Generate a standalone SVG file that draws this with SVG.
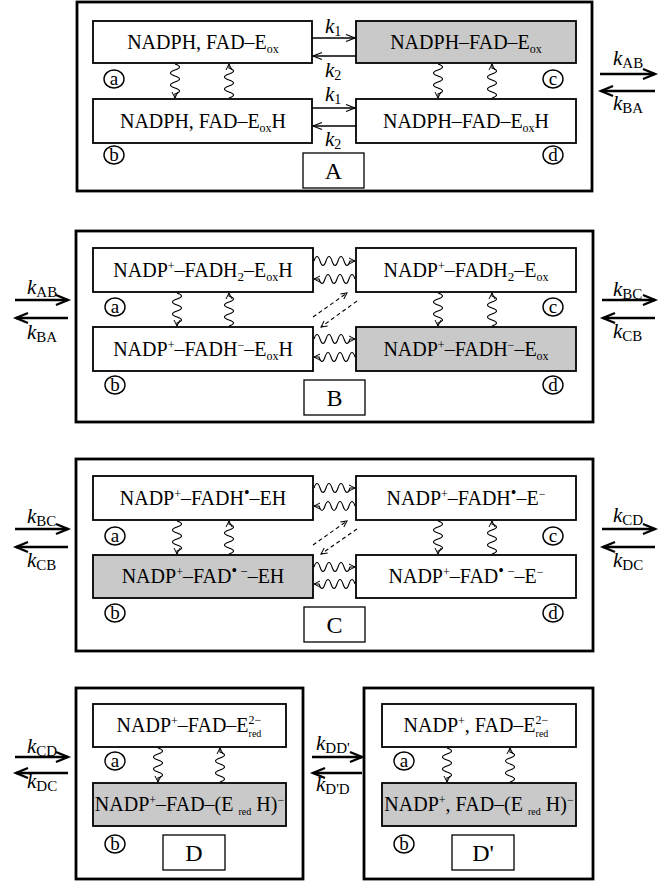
<svg xmlns="http://www.w3.org/2000/svg" width="669" height="882" viewBox="0 0 669 882">
<defs>
<marker id="ah" markerUnits="userSpaceOnUse" markerWidth="10" markerHeight="10" refX="6" refY="3" orient="auto" overflow="visible"><path d="M0,0 L6,3 L0,6" fill="none" stroke="#000" stroke-width="1"/></marker>
<marker id="ahK" markerUnits="userSpaceOnUse" markerWidth="12" markerHeight="10" refX="9" refY="3.5" orient="auto" overflow="visible"><path d="M0,0 L9,3.5 L0,7" fill="none" stroke="#000" stroke-width="1.2"/></marker>
<marker id="ahT" markerUnits="userSpaceOnUse" markerWidth="16" markerHeight="14" refX="12" refY="5" orient="auto" overflow="visible"><path d="M0,0 L12,5 L0,10" fill="none" stroke="#000" stroke-width="2.4"/></marker>
<style>
.outer{fill:#fff;stroke:#000;stroke-width:2.8}
.box{fill:#fff;stroke:#000;stroke-width:1.8}
.shade{fill:#c9c9c9}
.lbl{fill:#fff;stroke:#000;stroke-width:1.3}
.t{font-family:"Liberation Serif","Times New Roman",serif;font-size:20px;text-anchor:middle;fill:#000}
.big{font-family:"Liberation Serif","Times New Roman",serif;font-size:24px;text-anchor:middle;fill:#000}
.cl{fill:none;stroke:#000;stroke-width:1.4}
.ct{font-family:"Liberation Serif","Times New Roman",serif;font-size:19px;text-anchor:middle;fill:#000}
.k{font-family:"Liberation Serif","Times New Roman",serif;font-size:21px;fill:#000}
.wave{fill:none;stroke:#000;stroke-width:1.1;marker-end:url(#ah)}
.dash{fill:none;stroke:#000;stroke-width:1.1;stroke-dasharray:4 3;marker-end:url(#ah)}
.thin{fill:none;stroke:#000;stroke-width:1.3;marker-end:url(#ahK)}
.thick{fill:none;stroke:#000;stroke-width:2.6;marker-end:url(#ahT)}
</style>
</defs>

<!-- Outer panels -->
<g id="panelA"><rect class="outer" x="77" y="2" width="515" height="189"/><rect class="lbl" x="303" y="153" width="61" height="35"/><text class="big" x="333.5" y="179">A</text></g>
<g id="panelB"><rect class="outer" x="76" y="231" width="517" height="191"/><rect class="lbl" x="304" y="380" width="61" height="35"/><text class="big" x="334.5" y="406">B</text></g>
<g id="panelC"><rect class="outer" x="76" y="459" width="517" height="192"/><rect class="lbl" x="304" y="607" width="61" height="35"/><text class="big" x="334.5" y="633">C</text></g>
<g id="panelD"><rect class="outer" x="76" y="688" width="227" height="191"/><rect class="lbl" x="163" y="835" width="62" height="35"/><text class="big" x="194" y="861">D</text></g>
<g id="panelD2"><rect class="outer" x="364" y="688" width="229" height="191"/><rect class="lbl" x="452" y="835" width="62" height="35"/><text class="big" x="483" y="861">D'</text></g>

<!-- Panel A nodes -->
<g id="A-a"><rect class="box" x="93" y="21" width="219" height="42"/><text class="t" x="203" y="49">NADPH, FAD–E<tspan font-size="12" dy="4">ox</tspan></text><ellipse class="cl" cx="114" cy="79" rx="10" ry="9"/><text class="ct" x="114" y="85">a</text></g>
<g id="A-b"><rect class="box" x="93" y="99" width="219" height="44"/><text class="t" x="203" y="128">NADPH, FAD–E<tspan font-size="12" dy="4">ox</tspan><tspan dy="-4">H</tspan></text><ellipse class="cl" cx="114" cy="155" rx="10" ry="9"/><text class="ct" x="114" y="161">b</text></g>
<g id="A-c"><rect class="box shade" x="356" y="21" width="220" height="42"/><text class="t" x="466" y="49">NADPH–FAD–E<tspan font-size="12" dy="4">ox</tspan></text><ellipse class="cl" cx="553" cy="79" rx="10" ry="9"/><text class="ct" x="553" y="85">c</text></g>
<g id="A-d"><rect class="box" x="356" y="99" width="220" height="44"/><text class="t" x="466" y="128">NADPH–FAD–E<tspan font-size="12" dy="4">ox</tspan><tspan dy="-4">H</tspan></text><ellipse class="cl" cx="553" cy="155" rx="10" ry="9"/><text class="ct" x="553" y="161">d</text></g>

<!-- Panel B nodes -->
<g id="B-a"><rect class="box" x="93" y="248" width="220" height="44"/><text class="t" x="203" y="277">NADP<tspan font-size="12" dy="-7">+</tspan><tspan dy="7">–FADH</tspan><tspan font-size="13" dy="4">2</tspan><tspan dy="-4">–E</tspan><tspan font-size="12" dy="4">ox</tspan><tspan dy="-4">H</tspan></text><ellipse class="cl" cx="115" cy="307" rx="10" ry="9"/><text class="ct" x="115" y="313">a</text></g>
<g id="B-b"><rect class="box" x="93" y="327" width="220" height="44"/><text class="t" x="203" y="356">NADP<tspan font-size="12" dy="-7">+</tspan><tspan dy="7">–FADH</tspan><tspan font-size="12" dy="-7">−</tspan><tspan dy="7">–E</tspan><tspan font-size="12" dy="4">ox</tspan><tspan dy="-4">H</tspan></text><ellipse class="cl" cx="115" cy="385" rx="10" ry="9"/><text class="ct" x="115" y="391">b</text></g>
<g id="B-c"><rect class="box" x="356" y="248" width="220" height="44"/><text class="t" x="466" y="277">NADP<tspan font-size="12" dy="-7">+</tspan><tspan dy="7">–FADH</tspan><tspan font-size="13" dy="4">2</tspan><tspan dy="-4">–E</tspan><tspan font-size="12" dy="4">ox</tspan></text><ellipse class="cl" cx="553" cy="307" rx="10" ry="9"/><text class="ct" x="553" y="313">c</text></g>
<g id="B-d"><rect class="box shade" x="356" y="327" width="220" height="44"/><text class="t" x="466" y="356">NADP<tspan font-size="12" dy="-7">+</tspan><tspan dy="7">–FADH</tspan><tspan font-size="12" dy="-7">−</tspan><tspan dy="7">–E</tspan><tspan font-size="12" dy="4">ox</tspan></text><ellipse class="cl" cx="553" cy="385" rx="10" ry="9"/><text class="ct" x="553" y="391">d</text></g>

<!-- Panel C nodes -->
<g id="C-a"><rect class="box" x="93" y="476" width="220" height="44"/><text class="t" x="203" y="505">NADP<tspan font-size="12" dy="-7">+</tspan><tspan dy="7">–FADH</tspan><tspan font-size="16" dy="-7">•</tspan><tspan dy="7">–EH</tspan></text><ellipse class="cl" cx="115" cy="536" rx="10" ry="9"/><text class="ct" x="115" y="542">a</text></g>
<g id="C-b"><rect class="box shade" x="93" y="555" width="220" height="43"/><text class="t" x="203" y="583">NADP<tspan font-size="12" dy="-7">+</tspan><tspan dy="7">–FAD</tspan><tspan font-size="16" dy="-7">•</tspan><tspan font-size="13"> −</tspan><tspan dy="7">–EH</tspan></text><ellipse class="cl" cx="115" cy="613" rx="10" ry="9"/><text class="ct" x="115" y="619">b</text></g>
<g id="C-c"><rect class="box" x="356" y="476" width="220" height="44"/><text class="t" x="466" y="505">NADP<tspan font-size="12" dy="-7">+</tspan><tspan dy="7">–FADH</tspan><tspan font-size="16" dy="-7">•</tspan><tspan dy="7">–E</tspan><tspan font-size="12" dy="-7">−</tspan></text><ellipse class="cl" cx="553" cy="536" rx="10" ry="9"/><text class="ct" x="553" y="542">c</text></g>
<g id="C-d"><rect class="box" x="356" y="555" width="220" height="43"/><text class="t" x="466" y="583">NADP<tspan font-size="12" dy="-7">+</tspan><tspan dy="7">–FAD</tspan><tspan font-size="16" dy="-7">•</tspan><tspan font-size="13"> −</tspan><tspan dy="7">–E</tspan><tspan font-size="12" dy="-7">−</tspan></text><ellipse class="cl" cx="553" cy="613" rx="10" ry="9"/><text class="ct" x="553" y="619">d</text></g>

<!-- Panel D nodes -->
<g id="D-a"><rect class="box" x="93" y="704" width="193" height="43"/><text class="t" x="189" y="732">NADP<tspan font-size="12" dy="-7">+</tspan><tspan dy="7">–FAD–E</tspan><tspan font-size="10" dy="5">red</tspan><tspan font-size="12" dx="-13" dy="-13">2−</tspan></text><ellipse class="cl" cx="115" cy="761" rx="10" ry="9"/><text class="ct" x="115" y="767">a</text></g>
<g id="D-b"><rect class="box shade" x="93" y="783" width="193" height="43"/><text class="t" x="189.5" y="811">NADP<tspan font-size="12" dy="-7">+</tspan><tspan dy="7">–FAD–(E </tspan><tspan font-size="10" dy="4">red</tspan><tspan dy="-4"> H)</tspan><tspan font-size="12" dy="-7">−</tspan></text><ellipse class="cl" cx="115" cy="844" rx="10" ry="9"/><text class="ct" x="115" y="850">b</text></g>

<!-- Panel D' nodes -->
<g id="D2-a"><rect class="box" x="382" y="704" width="194" height="43"/><text class="t" x="476" y="732">NADP<tspan font-size="12" dy="-7">+</tspan><tspan dy="7">, FAD–E</tspan><tspan font-size="10" dy="5">red</tspan><tspan font-size="12" dx="-13" dy="-13">2−</tspan></text><ellipse class="cl" cx="404" cy="761" rx="10" ry="9"/><text class="ct" x="404" y="767">a</text></g>
<g id="D2-b"><rect class="box shade" x="382" y="783" width="194" height="43"/><text class="t" x="479" y="811">NADP<tspan font-size="12" dy="-7">+</tspan><tspan dy="7">, FAD–(E </tspan><tspan font-size="10" dy="4">red</tspan><tspan dy="-4">  H)</tspan><tspan font-size="12" dy="-7">−</tspan></text><ellipse class="cl" cx="404" cy="844" rx="10" ry="9"/><text class="ct" x="404" y="850">b</text></g>

<!-- Connectors -->
<g id="connectors">
<!-- A vertical waves -->
<path class="wave" d="M175,64 q9,3 0,6 t0,6 t0,6 t0,6 t0,6 l0,4"/>
<path class="wave" d="M229,98 q9,-3 0,-6 t0,-6 t0,-6 t0,-6 t0,-6 l0,-4"/>
<path class="wave" d="M438,64 q9,3 0,6 t0,6 t0,6 t0,6 t0,6 l0,4"/>
<path class="wave" d="M492,98 q9,-3 0,-6 t0,-6 t0,-6 t0,-6 t0,-6 l0,-4"/>
<!-- A k1/k2 -->
<path class="thin" d="M312,38 L355,38"/>
<path class="thin" d="M356,56 L313,56"/>
<path class="thin" d="M312,108 L355,108"/>
<path class="thin" d="M356,126 L313,126"/>
<text class="k" x="325" y="33"><tspan font-style="italic">k</tspan><tspan font-size="14" dy="3">1</tspan></text>
<text class="k" x="325" y="77"><tspan font-style="italic">k</tspan><tspan font-size="14" dy="3">2</tspan></text>
<text class="k" x="325" y="101"><tspan font-style="italic">k</tspan><tspan font-size="14" dy="3">1</tspan></text>
<text class="k" x="325" y="146"><tspan font-style="italic">k</tspan><tspan font-size="14" dy="3">2</tspan></text>

<!-- B vertical waves -->
<path class="wave" d="M177,293 q9,3 0,6 t0,6 t0,6 t0,6 t0,6 l0,3"/>
<path class="wave" d="M229,326 q9,-3 0,-6 t0,-6 t0,-6 t0,-6 t0,-6 l0,-3"/>
<path class="wave" d="M438,293 q9,3 0,6 t0,6 t0,6 t0,6 t0,6 l0,3"/>
<path class="wave" d="M492,326 q9,-3 0,-6 t0,-6 t0,-6 t0,-6 t0,-6 l0,-3"/>
<!-- B horizontal waves -->
<path class="wave" d="M314,261 q3,-9 6,0 t6,0 t6,0 t6,0 t6,0 t6,0 l5,0"/>
<path class="wave" d="M355,279 q-3,-9 -6,0 t-6,0 t-6,0 t-6,0 t-6,0 t-6,0 l-5,0"/>
<path class="wave" d="M314,339 q3,-9 6,0 t6,0 t6,0 t6,0 t6,0 t6,0 l5,0"/>
<path class="wave" d="M355,357 q-3,-9 -6,0 t-6,0 t-6,0 t-6,0 t-6,0 t-6,0 l-5,0"/>
<path class="dash" d="M313,317 L347,293"/>
<path class="dash" d="M357,301 L321,327"/>

<!-- C vertical waves -->
<path class="wave" d="M177,521 q9,3 0,6 t0,6 t0,6 t0,6 t0,6 l0,3"/>
<path class="wave" d="M229,554 q9,-3 0,-6 t0,-6 t0,-6 t0,-6 t0,-6 l0,-3"/>
<path class="wave" d="M438,521 q9,3 0,6 t0,6 t0,6 t0,6 t0,6 l0,3"/>
<path class="wave" d="M492,554 q9,-3 0,-6 t0,-6 t0,-6 t0,-6 t0,-6 l0,-3"/>
<!-- C horizontal waves -->
<path class="wave" d="M314,488 q3,-9 6,0 t6,0 t6,0 t6,0 t6,0 t6,0 l5,0"/>
<path class="wave" d="M355,506 q-3,-9 -6,0 t-6,0 t-6,0 t-6,0 t-6,0 t-6,0 l-5,0"/>
<path class="wave" d="M314,567 q3,-9 6,0 t6,0 t6,0 t6,0 t6,0 t6,0 l5,0"/>
<path class="wave" d="M355,584 q-3,-9 -6,0 t-6,0 t-6,0 t-6,0 t-6,0 t-6,0 l-5,0"/>
<path class="dash" d="M313,545 L347,521"/>
<path class="dash" d="M357,529 L321,554"/>

<!-- D / D' vertical waves -->
<path class="wave" d="M158,748 q9,3 0,6 t0,6 t0,6 t0,6 t0,6 l0,4"/>
<path class="wave" d="M220,782 q9,-3 0,-6 t0,-6 t0,-6 t0,-6 t0,-6 l0,-4"/>
<path class="wave" d="M447,748 q9,3 0,6 t0,6 t0,6 t0,6 t0,6 l0,4"/>
<path class="wave" d="M510,782 q9,-3 0,-6 t0,-6 t0,-6 t0,-6 t0,-6 l0,-4"/>

<!-- Inter-panel thick arrows -->
<path class="thick" d="M600,74 L655,74"/>
<path class="thick" d="M655,91 L601,91"/>
<text class="k" x="613" y="65"><tspan font-style="italic">k</tspan><tspan font-size="15" dy="3">AB</tspan></text>
<text class="k" x="613" y="110"><tspan font-style="italic">k</tspan><tspan font-size="15" dy="3">BA</tspan></text>

<path class="thick" d="M15,300 L68,300"/>
<path class="thick" d="M68,318 L16,318"/>
<text class="k" x="27" y="294"><tspan font-style="italic">k</tspan><tspan font-size="15" dy="3">AB</tspan></text>
<text class="k" x="27" y="339"><tspan font-style="italic">k</tspan><tspan font-size="15" dy="3">BA</tspan></text>

<path class="thick" d="M602,300 L655,300"/>
<path class="thick" d="M655,318 L603,318"/>
<text class="k" x="613" y="296"><tspan font-style="italic">k</tspan><tspan font-size="15" dy="3">BC</tspan></text>
<text class="k" x="613" y="338"><tspan font-style="italic">k</tspan><tspan font-size="15" dy="3">CB</tspan></text>

<path class="thick" d="M15,529 L68,529"/>
<path class="thick" d="M68,547 L16,547"/>
<text class="k" x="27" y="523"><tspan font-style="italic">k</tspan><tspan font-size="15" dy="3">BC</tspan></text>
<text class="k" x="27" y="567"><tspan font-style="italic">k</tspan><tspan font-size="15" dy="3">CB</tspan></text>

<path class="thick" d="M602,529 L655,529"/>
<path class="thick" d="M655,547 L603,547"/>
<text class="k" x="613" y="522"><tspan font-style="italic">k</tspan><tspan font-size="15" dy="3">CD</tspan></text>
<text class="k" x="613" y="567"><tspan font-style="italic">k</tspan><tspan font-size="15" dy="3">DC</tspan></text>

<path class="thick" d="M15,757 L68,757"/>
<path class="thick" d="M68,773 L16,773"/>
<text class="k" x="27" y="753"><tspan font-style="italic">k</tspan><tspan font-size="15" dy="3">CD</tspan></text>
<text class="k" x="27" y="788"><tspan font-style="italic">k</tspan><tspan font-size="15" dy="3">DC</tspan></text>

<path class="thick" d="M312,757 L362,757"/>
<path class="thick" d="M362,773 L313,773"/>
<text class="k" x="316" y="750"><tspan font-style="italic">k</tspan><tspan font-size="15" dy="3">DD'</tspan></text>
<text class="k" x="316" y="791"><tspan font-style="italic">k</tspan><tspan font-size="15" dy="3">D'D</tspan></text>
</g>
</svg>
